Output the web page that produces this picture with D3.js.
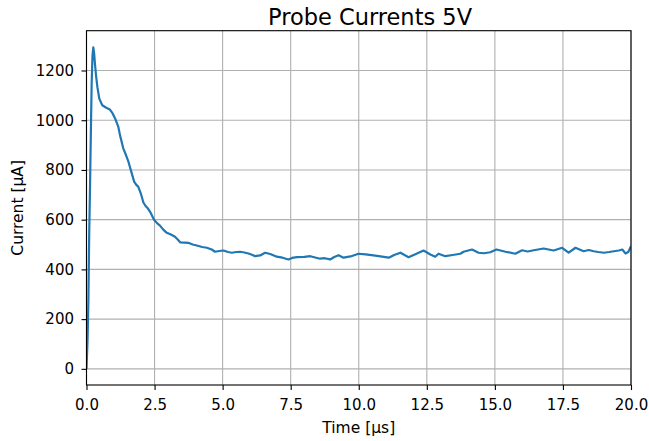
<!doctype html>
<html>
  <head>
    <meta charset="utf-8">
    <title>Probe Currents 5V</title>
    <script src="https://cdn.jsdelivr.net/npm/d3@7"></script>
    <style>
      body { margin: 0; background: #fff; }
      svg text { font-family: "DejaVu Sans", sans-serif; fill: #000; }
      .grid line { stroke: #b0b0b0; stroke-width: 1.1px; }
      .axis path, .axis line { stroke: #000; stroke-width: 1.1px; }
    </style>
  </head>
  <body>
    <svg id="chart" width="649" height="441"></svg>
<script>
// probe current trace
var timeUs = [
  0, 0.04, 0.07, 0.10, 0.13, 0.16, 0.19, 0.22, 0.25, 0.28,
  0.31, 0.35, 0.40, 0.47, 0.58, 0.74, 0.86, 0.96, 1.05, 1.17,
  1.23, 1.35, 1.45, 1.54, 1.66, 1.75, 1.83, 1.90, 1.99, 2.09,
  2.17, 2.24, 2.36, 2.48, 2.60, 2.70, 2.82, 2.95, 3.10, 3.25,
  3.35, 3.44, 3.60, 3.74, 3.90, 4.05, 4.25, 4.42, 4.60, 4.72,
  4.88, 5.03, 5.20, 5.34, 5.50, 5.64, 5.80, 5.95, 6.10, 6.19,
  6.38, 6.56, 6.75, 6.99, 7.20, 7.42, 7.55, 7.73, 8.00, 8.22,
  8.40, 8.58, 8.75, 8.95, 9.10, 9.26, 9.44, 9.70, 9.99, 10.25,
  10.54, 10.80, 11.10, 11.30, 11.53, 11.83, 12.10, 12.38, 12.63, 12.81,
  12.93, 13.18, 13.45, 13.73, 13.85, 14.16, 14.40, 14.60, 14.83, 15.06,
  15.39, 15.75, 16.00, 16.20, 16.43, 16.79, 17.16, 17.47, 17.71, 17.96,
  18.26, 18.45, 18.63, 18.80, 19.00, 19.20, 19.37, 19.55, 19.68, 19.80,
  19.90, 20.00
];
var currentUA = [
  0, 120, 280, 547, 733, 950, 1150, 1260, 1293, 1270,
  1227, 1180, 1133, 1087, 1060, 1049, 1043, 1027, 1007, 973,
  940, 887, 860, 833, 787, 753, 740, 733, 707, 669,
  655, 647, 627, 600, 585, 576, 560, 547, 540, 531,
  520, 509, 508, 507, 500, 496, 490, 487, 480, 471,
  474, 476, 470, 467, 470, 471, 468, 464, 458, 453,
  456, 467, 462, 451, 447, 440, 446, 449, 450, 453,
  448, 443, 445, 440, 450, 457, 447, 452, 463, 460,
  456, 452, 447, 458, 467, 449, 462, 476, 460, 451,
  463, 453, 458, 463, 471, 480, 467, 465, 469, 480,
  471, 463, 477, 472, 477, 484, 476, 487, 467, 487,
  473, 478, 473, 470, 467, 470, 473, 476, 480, 464,
  470, 493
];
var xTicks = [0, 2.5, 5, 7.5, 10, 12.5, 15, 17.5, 20];
var yTicks = [0, 200, 400, 600, 800, 1000, 1200];

var W = 649, H = 441;
var margin = {top: 30.7, right: 18, bottom: 56, left: 86.5};
var svg = d3.select('#chart');

var x = d3.scaleLinear().domain([0, 20]).range([margin.left, W - margin.right]);
var y = d3.scaleLinear().domain([-65, 1360]).range([H - margin.bottom, margin.top]);

// grid
var grid = svg.append('g').attr('class', 'grid');
grid.selectAll('.gx').data(xTicks).enter().append('line')
  .attr('x1', d => x(d)).attr('x2', d => x(d))
  .attr('y1', margin.top).attr('y2', H - margin.bottom);
grid.selectAll('.gy').data(yTicks).enter().append('line')
  .attr('y1', d => y(d)).attr('y2', d => y(d))
  .attr('x1', margin.left).attr('x2', W - margin.right);

// trace
var pts = timeUs.map((t, i) => [t, currentUA[i]]);
svg.append('defs').append('clipPath').attr('id', 'clip')
  .append('rect').attr('x', margin.left).attr('y', margin.top)
  .attr('width', W - margin.left - margin.right).attr('height', H - margin.top - margin.bottom);
svg.append('path').datum(pts)
  .attr('clip-path', 'url(#clip)')
  .attr('fill', 'none').attr('stroke', '#1f77b4').attr('stroke-width', 2.2)
  .attr('stroke-linejoin', 'round')
  .attr('d', d3.line().x(d => x(d[0])).y(d => y(d[1])));

// axes
svg.append('g').attr('class', 'axis')
  .attr('transform', 'translate(0,' + (H - margin.bottom) + ')')
  .call(d3.axisBottom(x).tickValues(xTicks).tickFormat(d3.format('.1f')).tickSizeInner(5).tickSizeOuter(0).tickPadding(9.5));
svg.append('g').attr('class', 'axis')
  .attr('transform', 'translate(' + margin.left + ',0)')
  .call(d3.axisLeft(y).tickValues(yTicks).tickFormat(d3.format('d')).tickSizeInner(5).tickSizeOuter(0).tickPadding(7.5));
svg.selectAll('.axis text').style('font-size', '15px').style('font-family', '"DejaVu Sans", sans-serif');
svg.selectAll('.axis .domain').remove();

// frame
svg.append('rect').attr('x', margin.left).attr('y', margin.top)
  .attr('width', W - margin.left - margin.right).attr('height', H - margin.top - margin.bottom)
  .attr('fill', 'none').attr('stroke', '#000').attr('stroke-width', 1.1);

// labels
svg.append('text').attr('x', 370).attr('y', 25)
  .attr('text-anchor', 'middle').style('font-size', '22.5px').text('Probe Currents 5V');
svg.append('text').attr('x', (margin.left + W - margin.right) / 2).attr('y', 433)
  .attr('text-anchor', 'middle').style('font-size', '15.5px').text('Time [μs]');
svg.append('text').attr('transform', 'translate(23,' + ((margin.top + H - margin.bottom) / 2) + ') rotate(-90)')
  .attr('text-anchor', 'middle').style('font-size', '15.5px').text('Current [μA]');
</script>
  </body>
</html>
